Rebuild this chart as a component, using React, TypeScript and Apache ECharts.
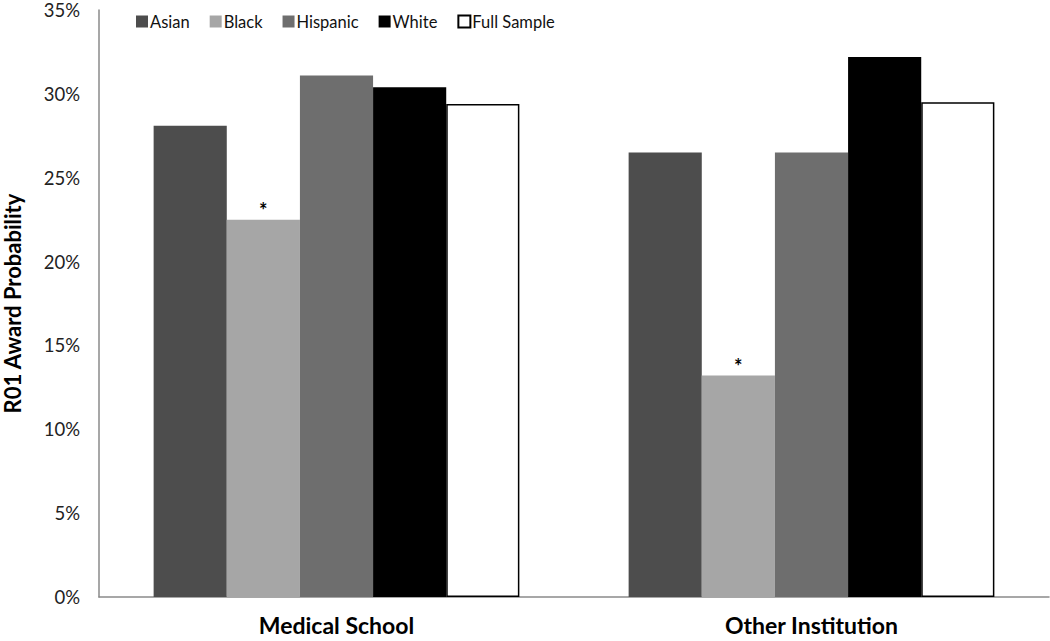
import React, { useEffect, useRef } from "react";
import * as echarts from "echarts";

const categories = ["Medical School", "Other Institution"];
const seriesNames = ["Asian", "Black", "Hispanic", "White", "Full Sample"];
const asian = [28.1, 26.5];
const black = [22.5, 13.2];
const hispanic = [31.1, 26.5];
const white = [30.4, 32.2];
const fullSample = [29.4, 29.5];
const significant = [true, true];
const yTicks = { min: 0, max: 35, interval: 5 };

const FONT = "Lato, 'Open Sans', sans-serif";

export default function App() {
  const ref = useRef<HTMLDivElement>(null);
  useEffect(() => {
    if (!ref.current) return;
    const chart = echarts.init(ref.current, undefined, { renderer: "svg" });
    const colors = ["#4d4d4d", "#a6a6a6", "#6e6e6e", "#000000", "#ffffff"];
    const values = [asian, black, hispanic, white, fullSample];
    chart.setOption({
      animation: false,
      textStyle: { fontFamily: FONT },
      legend: {
        left: 131,
        top: 8,
        itemWidth: 12,
        itemHeight: 12,
        itemGap: 20,
        icon: "rect",
        textStyle: { fontSize: 16.5, color: "#111", fontFamily: FONT, padding: [0, 0, 0, -3] },
        data: seriesNames,
      },
      grid: {
        left: 99,
        right: 1,
        top: 10,
        bottom: 44,
        containLabel: false,
        outerBoundsMode: "none",
      },
      xAxis: {
        type: "category",
        data: categories,
        axisLine: { lineStyle: { color: "#8a8a8a", width: 1.5 } },
        axisTick: { show: false },
        axisLabel: {
          fontSize: 23,
          lineHeight: 24,
          fontWeight: "bold",
          color: "#000",
          margin: 16,
          fontFamily: FONT,
        },
      },
      yAxis: {
        type: "value",
        min: yTicks.min,
        max: yTicks.max,
        interval: yTicks.interval,
        name: "R01 Award Probability",
        nameLocation: "middle",
        nameGap: 76,
        nameTextStyle: { fontSize: 22, fontWeight: "bold", color: "#000", fontFamily: FONT },
        axisLine: { show: true, lineStyle: { color: "#8a8a8a", width: 1.5 } },
        axisTick: { show: false },
        splitLine: { show: false },
        axisLabel: {
          formatter: "{value}%",
          fontSize: 18.5,
          lineHeight: 19,
          color: "#222",
          margin: 19,
          fontFamily: FONT,
        },
      },
      series: seriesNames.map((name, i) => ({
        name,
        type: "bar",
        barGap: "0%",
        barCategoryGap: "23%",
        itemStyle: {
          color: colors[i],
          borderColor: i === 4 ? "#000" : colors[i],
          borderWidth: i === 4 ? 1.5 : 0,
        },
        data: values[i].map((v, j) =>
          i === 1 && significant[j]
            ? {
                value: v,
                label: {
                  show: true,
                  position: "top",
                  formatter: "*",
                  fontSize: 20,
                  fontWeight: "bold",
                  color: "#000",
                  distance: 0,
                },
              }
            : v
        ),
      })),
    });
    return () => chart.dispose();
  }, []);
  return (
    <div
      ref={ref}
      style={{ position: "fixed", left: 0, top: 0, width: 1050, height: 641, background: "#fff" }}
    />
  );
}
